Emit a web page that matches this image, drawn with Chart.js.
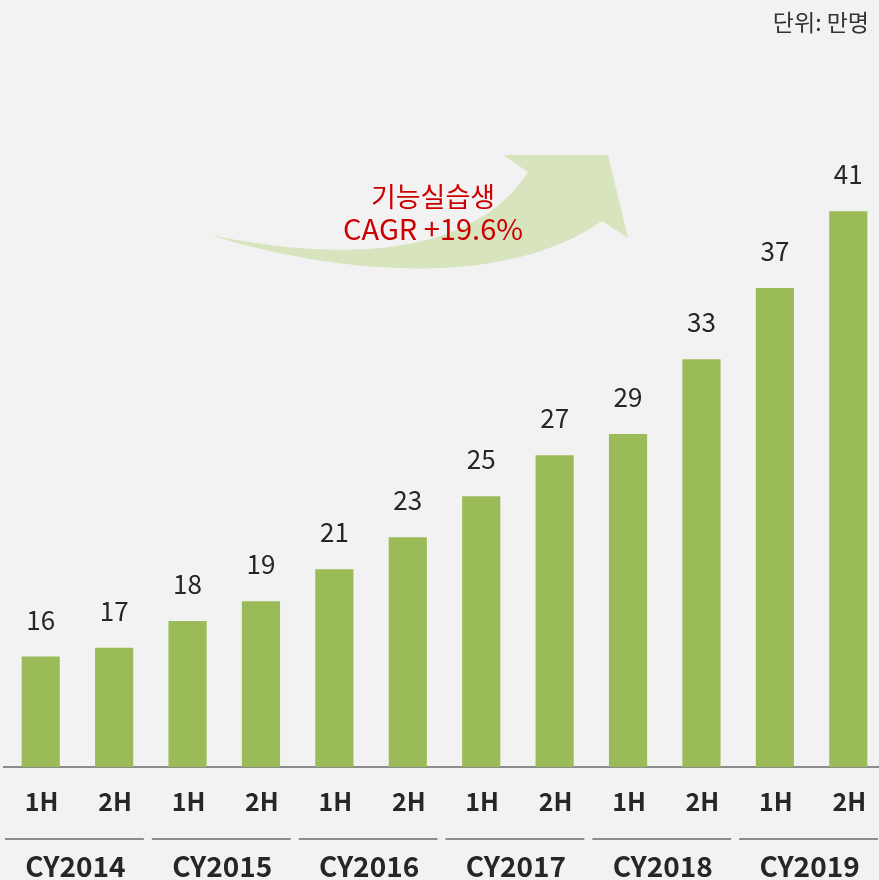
<!DOCTYPE html>
<html>
<head>
<meta charset="utf-8">
<script src="https://cdn.jsdelivr.net/npm/chart.js@4.4.0/dist/chart.umd.min.js"></script>
<style>
  html, body { margin: 0; padding: 0; background: #f2f2f2; overflow: hidden; }
  #wrap { width: 890px; height: 880px; position: relative; }
</style>
</head>
<body>
<div id="wrap"><canvas id="chart"></canvas></div>
<script>
const halves = ['1H', '2H', '1H', '2H', '1H', '2H', '1H', '2H', '1H', '2H', '1H', '2H']
const years = ['CY2014', 'CY2015', 'CY2016', 'CY2017', 'CY2018', 'CY2019']
const trainees = [16.0, 16.5, 18.0, 19.1, 20.9, 22.7, 25.0, 27.3, 28.5, 32.7, 36.7, 41.0]
const unitText = '단위: 만명'
const noteTitle = '기능실습생'
const noteCagr = 'CAGR +19.6%'

const FONT = "'Noto Sans CJK KR', 'Noto Sans', sans-serif"
const TEXT = '#262626'
const LINE = '#8c8c8c'

// the arrow, year rows, values and notes
const decor = {
  id: 'decor',
  beforeDatasetsDraw(chart) {
    const ctx = chart.ctx
    ctx.save()
    ctx.fillStyle = '#d7e4bd'
    ctx.beginPath()
    ctx.moveTo(210, 235)
    ctx.bezierCurveTo(330, 260, 470, 262, 528, 172)
    ctx.lineTo(503, 155)
    ctx.lineTo(608, 155)
    ctx.lineTo(628, 238)
    ctx.lineTo(602, 221)
    ctx.bezierCurveTo(500, 292, 330, 272, 210, 235)
    ctx.closePath()
    ctx.fill()
    ctx.restore()
  },
  afterDraw(chart) {
    const ctx = chart.ctx
    const x = chart.scales.x
    const meta = chart.getDatasetMeta(0)
    const step = x.getPixelForValue(1) - x.getPixelForValue(0)
    ctx.save()
    ctx.textAlign = 'center'
    ctx.textBaseline = 'alphabetic'

    // values over bars
    ctx.fillStyle = TEXT
    ctx.font = '26px ' + FONT
    meta.data.forEach((bar, i) => {
      ctx.fillText(String(Math.round(trainees[i])), bar.x, bar.y - 27)
    })

    // half-year ticks
    ctx.font = 'bold 25px ' + FONT
    halves.forEach((h, i) => {
      ctx.fillText(h, x.getPixelForValue(i) + 1, 811)
    })

    // year groups
    ctx.strokeStyle = LINE
    ctx.lineWidth = 2
    ctx.font = 'bold 28px ' + FONT
    years.forEach((y, g) => {
      const left = x.getPixelForValue(g * 2) - step / 2
      const right = x.getPixelForValue(g * 2 + 1) + step / 2
      ctx.beginPath()
      ctx.moveTo(left + 1, 839)
      ctx.lineTo(right - 7, 839)
      ctx.stroke()
      ctx.fillText(y, (left + right) / 2 - 2, 877)
    })

    // unit
    ctx.textAlign = 'right'
    ctx.font = '23px ' + FONT
    ctx.fillStyle = '#333333'
    ctx.fillText(unitText, 869, 31)

    // CAGR note
    ctx.textAlign = 'center'
    ctx.fillStyle = '#cc0000'
    ctx.font = '27px ' + FONT
    ctx.fillText(noteTitle, 433, 207)
    ctx.font = '29px ' + FONT
    ctx.fillText(noteCagr, 433, 240)
    ctx.restore()
  }
}

new Chart(document.getElementById('chart'), {
  type: 'bar',
  data: {
    labels: halves,
    datasets: [{
      data: trainees,
      backgroundColor: '#9bbb59',
      borderWidth: 0,
      categoryPercentage: 1,
      barPercentage: 0.52
    }]
  },
  options: {
    responsive: true,
    maintainAspectRatio: false,
    animation: false,
    layout: { padding: { top: 51, left: 4, right: 5, bottom: 0 } },
    plugins: { legend: { display: false }, tooltip: { enabled: false } },
    scales: {
      x: {
        ticks: { display: false },
        grid: { display: false, drawTicks: false },
        border: { display: true, color: LINE, width: 2 },
        afterFit(scale) { scale.height = 113 }
      },
      y: {
        display: false,
        min: 9.8,
        max: 50
      }
    }
  },
  plugins: [decor]
})
</script>
</body>
</html>
